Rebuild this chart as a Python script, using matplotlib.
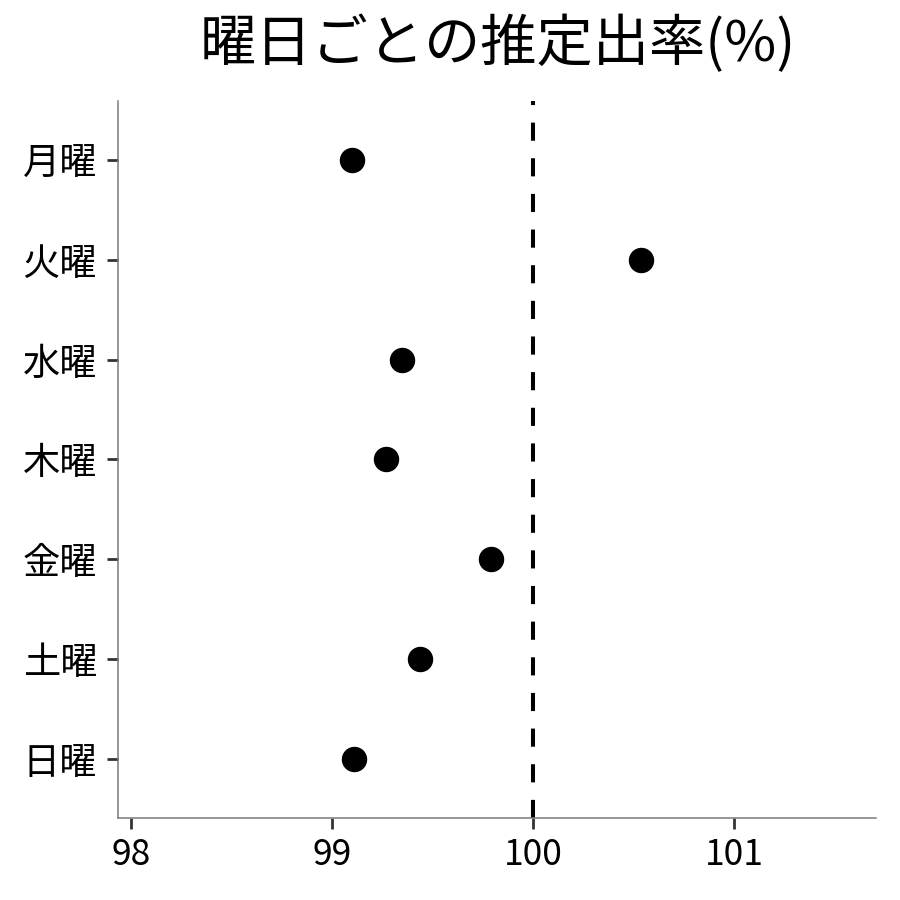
import matplotlib
matplotlib.use("Agg")
import matplotlib.pyplot as plt

plt.rcParams['font.family'] = ['Noto Sans CJK JP', 'DejaVu Sans']

days = ["月曜", "火曜", "水曜", "木曜", "金曜", "土曜", "日曜"]
rates = [99.10, 100.54, 99.35, 99.27, 99.79, 99.44, 99.11]
xticks = [98, 99, 100, 101]
title = "曜日ごとの推定出率(%)"

fig = plt.figure(figsize=(9, 9), dpi=100)
ax = fig.add_axes([0.131, 0.0911, 0.842, 0.7967])

ypos = list(range(len(days) - 1, -1, -1))
ax.plot(rates, ypos, 'o', color='black', markersize=17.3, zorder=3)
ax.axvline(100, color='black', lw=2.9, dashes=(4.5, 4.35), zorder=2)

ax.set_yticks(ypos)
ax.set_yticklabels(days, fontsize=26.8)
ax.set_xticks(xticks)
ax.set_xticklabels([str(x) for x in xticks], fontsize=25.5)
ax.set_xlim(97.935, 101.706)
ax.set_ylim(-0.59, 6.59)

for s in ['top', 'right']:
    ax.spines[s].set_visible(False)
for s in ['left', 'bottom']:
    ax.spines[s].set_color('#7a7a7a')
    ax.spines[s].set_linewidth(1.1)
ax.tick_params(axis='both', length=8, width=2, color='#333333', labelcolor='black')
ax.tick_params(axis='y', pad=7)
ax.tick_params(axis='x', pad=6)

fig.suptitle(title, fontsize=40.5, x=0.553, y=0.983, va='top')

fig.savefig("out.png", dpi=100, facecolor='white')
